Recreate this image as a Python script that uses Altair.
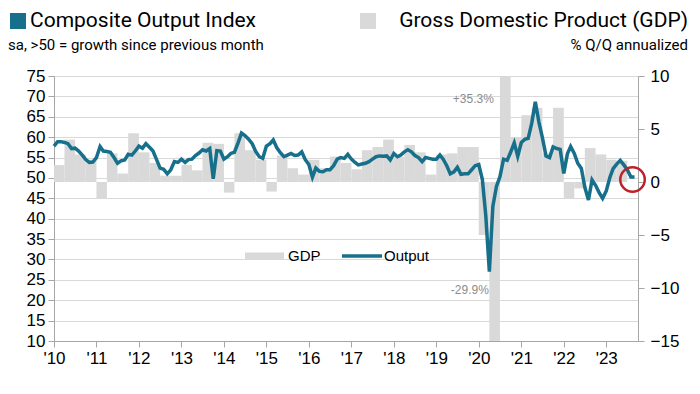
import altair as alt
import pandas as pd

# ---------------- data ----------------
pmi_2010 = [57.8, 58.9, 58.9, 58.7, 58.4, 57.2, 57.3, 56.6, 55.6, 54.5, 53.8, 53.9]
pmi_2011 = [55.0, 57.7, 56.6, 56.5, 56.3, 55.0, 53.6, 54.2, 54.4, 55.8, 55.6, 56.6]
pmi_2012 = [57.8, 57.3, 58.4, 57.5, 56.6, 54.5, 52.4, 52.1, 51.0, 52.0, 54.0, 53.8]
pmi_2013 = [54.6, 53.8, 54.5, 54.6, 55.5, 56.1, 56.9, 56.6, 57.2, 49.8, 56.7, 56.6]
pmi_2014 = [54.6, 55.2, 56.0, 56.3, 58.5, 61.0, 60.4, 59.5, 58.4, 56.5, 55.2, 54.8]
pmi_2015 = [57.8, 58.4, 59.3, 57.4, 56.2, 55.2, 55.6, 56.0, 55.5, 55.6, 56.4, 54.5]
pmi_2016 = [53.3, 50.2, 52.4, 51.6, 51.5, 52.0, 52.0, 53.0, 54.6, 55.0, 54.8, 55.8]
pmi_2017 = [54.6, 53.8, 53.2, 53.4, 53.6, 54.0, 54.6, 55.2, 55.4, 55.3, 55.4, 54.4]
pmi_2018 = [56.0, 55.2, 55.6, 56.4, 56.9, 56.4, 55.5, 55.0, 54.0, 55.0, 54.8, 54.6]
pmi_2019 = [54.6, 55.6, 54.6, 53.0, 51.0, 51.5, 52.6, 50.9, 51.0, 51.0, 52.0, 53.0]
pmi_2020 = [53.3, 49.6, 40.9, 27.0, 43.0, 47.9, 50.3, 54.6, 54.3, 56.3, 58.6, 55.3]
pmi_2021 = [58.7, 59.5, 59.7, 63.5, 68.7, 63.7, 59.9, 55.4, 55.0, 57.6, 57.2, 57.0]
pmi_2022 = [51.1, 55.9, 57.7, 56.0, 53.6, 52.3, 47.7, 44.6, 49.5, 48.2, 46.4, 45.0]
pmi_2023 = [46.8, 50.1, 52.3, 53.4, 54.3, 53.2, 52.0, 50.2, 50.2]

gdp_2010 = [1.6, 4.0, 2.6, 2.1]
gdp_2011 = [-1.5, 2.7, 0.8, 4.6]
gdp_2012 = [2.8, 1.8, 0.6, 0.6]
gdp_2013 = [1.6, 1.1, 3.7, 3.6]
gdp_2014 = [-1.0, 4.6, 3.0, 2.1]
gdp_2015 = [-0.9, 2.5, 1.3, 0.7]
gdp_2016 = [2.1, 1.3, 2.4, 1.8]
gdp_2017 = [1.2, 3.0, 3.3, 4.0]
gdp_2018 = [2.4, 3.5, 2.8, 0.7]
gdp_2019 = [2.6, 2.7, 3.3, 3.3]
gdp_2020 = [-5.0, -29.9, 35.3, 4.2]
gdp_2021 = [6.3, 7.0, 2.7, 7.0]
gdp_2022 = [-1.6, -0.6, 3.2, 2.6]
gdp_2023 = [2.1, 2.0]

left_ticks = [10, 15, 20, 25, 30, 35, 40, 45, 50, 55, 60, 65, 70, 75]
right_ticks = [-15, -10, -5, 0, 5, 10]

# ---------------- tables ----------------
pmi = (pmi_2010 + pmi_2011 + pmi_2012 + pmi_2013 + pmi_2014 + pmi_2015 + pmi_2016
       + pmi_2017 + pmi_2018 + pmi_2019 + pmi_2020 + pmi_2021 + pmi_2022 + pmi_2023)
gdp = (gdp_2010 + gdp_2011 + gdp_2012 + gdp_2013 + gdp_2014 + gdp_2015 + gdp_2016
       + gdp_2017 + gdp_2018 + gdp_2019 + gdp_2020 + gdp_2021 + gdp_2022 + gdp_2023)

months = pd.date_range("2010-01-01", periods=len(pmi), freq="MS")
line_df = pd.DataFrame({"date": months.strftime("%Y-%m-%dT00:00:00"), "pmi": pmi})

q_start = pd.date_range("2010-01-01", periods=len(gdp), freq="QS")
q_end = q_start + pd.DateOffset(months=3)
bar_df = pd.DataFrame({
    "start": q_start.strftime("%Y-%m-%dT00:00:00"),
    "end": q_end.strftime("%Y-%m-%dT00:00:00"),
    "gdp": gdp,
})

TEAL = "#16708b"
GRAY = "#d9d9d9"
AXIS = "#a6a6a6"
FONT = "Liberation Sans"
TFONT = "Roboto"

W, H = 584, 265
x_scale = alt.Scale(domain=[alt.DateTime(year=2010, month=1, date=1),
                            alt.DateTime(year=2023, month=10, date=1)])
x_axis = alt.Axis(
    values=[alt.DateTime(year=y, month=1, date=1) for y in range(2010, 2024)],
    labelExpr="\"'\" + timeFormat(datum.value, '%y')",
    title=None, grid=False, domainColor=AXIS, tickColor=AXIS,
    tickSize=6, labelFontSize=17, labelFont=FONT, labelColor="#000000",
    labelPadding=3, labelFlush=False, labelOverlap=False,
)
gdp_scale = alt.Scale(domain=[-15, 10], nice=False)
pmi_scale = alt.Scale(domain=[10, 75], zero=False, nice=False)
gdp_axis = alt.Axis(orient="right", values=right_ticks, title=None, grid=False,
                    domainColor=AXIS, tickColor=AXIS, tickSize=6,
                    labelFontSize=17, labelFont=FONT, labelColor="#000000",
                    labelPadding=6, labelOverlap=False)
pmi_axis = alt.Axis(orient="left", values=left_ticks, title=None, grid=True,
                    gridColor=GRAY, gridWidth=1, domainColor=AXIS,
                    tickColor=AXIS, tickSize=6, labelFontSize=17,
                    labelFont=FONT, labelColor="#000000", labelPadding=3,
                    labelOverlap=False)

bars = alt.Chart(bar_df).mark_rect(color=GRAY, clip=True).encode(
    x=alt.X("start:T", scale=x_scale, axis=x_axis),
    x2="end:T",
    y=alt.Y("gdp:Q", scale=gdp_scale, axis=gdp_axis),
    y2=alt.datum(0),
)

annot_df = pd.DataFrame({
    "date": ["2020-05-10T00:00:00", "2020-03-28T00:00:00"],
    "gdp": [7.8, -10.2],
    "label": ["+35.3%", "-29.9%"],
})
annots = alt.Chart(annot_df).mark_text(align="right", baseline="middle", fontSize=12,
                                        font=FONT, color="#8c8c8c").encode(
    x=alt.X("date:T", scale=x_scale, axis=x_axis),
    y=alt.Y("gdp:Q", scale=gdp_scale, axis=gdp_axis),
    text="label:N",
)

line = alt.Chart(line_df).mark_line(color=TEAL, strokeWidth=3.5).encode(
    x=alt.X("date:T", scale=x_scale, axis=x_axis),
    y=alt.Y("pmi:Q", scale=pmi_scale, axis=pmi_axis),
)

circle_df = pd.DataFrame({"date": ["2023-08-15T00:00:00"], "pmi": [49.6]})
circle = alt.Chart(circle_df).mark_point(shape="circle", size=600, filled=False,
                                          color="#c0202a", opacity=1,
                                          strokeWidth=2.5).encode(
    x=alt.X("date:T", scale=x_scale, axis=x_axis),
    y=alt.Y("pmi:Q", scale=pmi_scale, axis=pmi_axis),
)

# ---------------- header and legend text ----------------
def label(text, px, py, size, align="left", color="#000000", font=TFONT):
    return alt.Chart(pd.DataFrame({"t": [text]})).mark_text(
        align=align, baseline="middle", fontSize=size, font=font, color=color
    ).encode(x=alt.value(px - 54), y=alt.value(py - 76), text="t:N")

def swatch(px, py, color, size=256):
    return alt.Chart(pd.DataFrame({"t": [0]})).mark_square(
        size=size, color=color, opacity=1
    ).encode(x=alt.value(px - 54), y=alt.value(py - 76))

header = alt.layer(
    swatch(18, 21, TEAL),
    label("Composite Output Index", 30, 21, 21),
    label("sa, >50 = growth since previous month", 8, 45, 15),
    swatch(368, 21, GRAY),
    label("Gross Domestic Product (GDP)", 688, 21, 21, align="right"),
    label("% Q/Q annualized", 688, 45, 15, align="right"),
)

legend = alt.layer(
    alt.Chart(pd.DataFrame({"t": [0]})).mark_rule(color=GRAY, strokeWidth=7).encode(
        x=alt.value(245 - 54), x2=alt.value(284 - 54), y=alt.value(256 - 76)),
    label("GDP", 288, 256, 15, font=FONT),
    alt.Chart(pd.DataFrame({"t": [0]})).mark_rule(color=TEAL, strokeWidth=3.5).encode(
        x=alt.value(342 - 54), x2=alt.value(382 - 54), y=alt.value(256 - 76)),
    label("Output", 384, 256, 15, font=FONT),
)

gdp_group = alt.layer(bars, annots)
pmi_group = alt.layer(line, circle)

chart = alt.layer(gdp_group, pmi_group, legend, header).resolve_scale(
    y="independent"
).properties(
    width=W, height=H,
    autosize=alt.AutoSizeParams(type="none"),
    padding={"left": 46, "top": 68, "right": 50, "bottom": 35},
).configure_view(stroke=None).configure(background="#ffffff")

chart.save("out.html", embed_options={"renderer": "svg", "actions": False})
